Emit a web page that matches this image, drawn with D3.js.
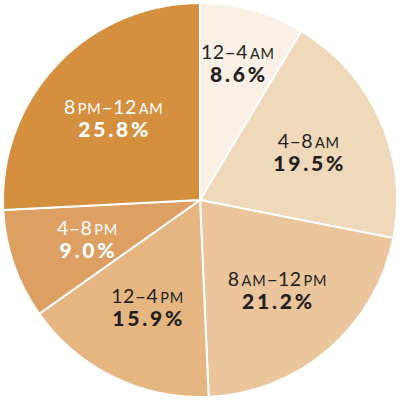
<!DOCTYPE html>
<html><head><meta charset="utf-8">
<script src="https://cdn.jsdelivr.net/npm/d3@7"></script>
<style>body{margin:0;background:#fff}svg{display:block}</style>
</head><body>
<svg id="c" width="400" height="400"></svg>
<script>
// Data
const labelMain = ["12–4", "4–8", "8", "12–4", "4–8", "8"];
const labelSuffix = [["AM"], ["AM"], ["AM", "–12", "PM"], ["PM"], ["PM"], ["PM", "–12", "AM"]];
const values = [8.6, 19.5, 21.2, 15.9, 9.0, 25.8];
const percentLabels = ["8.6%", "19.5%", "21.2%", "15.9%", "9.0%", "25.8%"];
const colors = ["#f9efe4", "#f0d8bb", "#ebc59c", "#e6b682", "#dea062", "#d4903f"];
const textColors = ["#231f20", "#231f20", "#231f20", "#231f20", "#ffffff", "#ffffff"];

const svg = d3.select("#c");
const cx = 200, cy = 200, R = 197;
const g = svg.append("g").attr("transform", `translate(${cx},${cy})`);
const pie = d3.pie().sort(null).value(d => d)(values);
const arc = d3.arc().innerRadius(0).outerRadius(R);
g.selectAll("path").data(pie).join("path")
  .attr("d", arc).attr("fill", (d, i) => colors[i])
  .attr("stroke", "#fff").attr("stroke-width", 2);

const font = "Lato, 'Open Sans', sans-serif";
pie.forEach((d, i) => {
  const lr = i === 0 ? 142 : 119;
  const a = (d.startAngle + d.endAngle) / 2;
  const x = lr * Math.sin(a), y = -lr * Math.cos(a);
  const t = g.append("text").attr("x", x).attr("y", y - 4)
    .attr("text-anchor", "middle").attr("fill", textColors[i])
    .style("font-family", font).style("font-size", "19.5px")
    .style("letter-spacing", "0.4px");
  t.append("tspan").text(labelMain[i]);
  labelSuffix[i].forEach(s => {
    const small = s === "AM" || s === "PM";
    t.append("tspan").attr("dx", small ? 2 : 0)
      .style("font-size", small ? "14.5px" : "19.5px")
      .style("letter-spacing", small ? "0.8px" : "0.4px").text(s);
  });
  g.append("text").attr("x", x + 1).attr("y", y + 19)
    .attr("text-anchor", "middle").attr("fill", textColors[i])
    .style("font-family", font).style("font-size", "21px")
    .style("font-weight", "900").style("letter-spacing", "2.8px")
    .text(percentLabels[i]);
});
</script>
</body></html>
